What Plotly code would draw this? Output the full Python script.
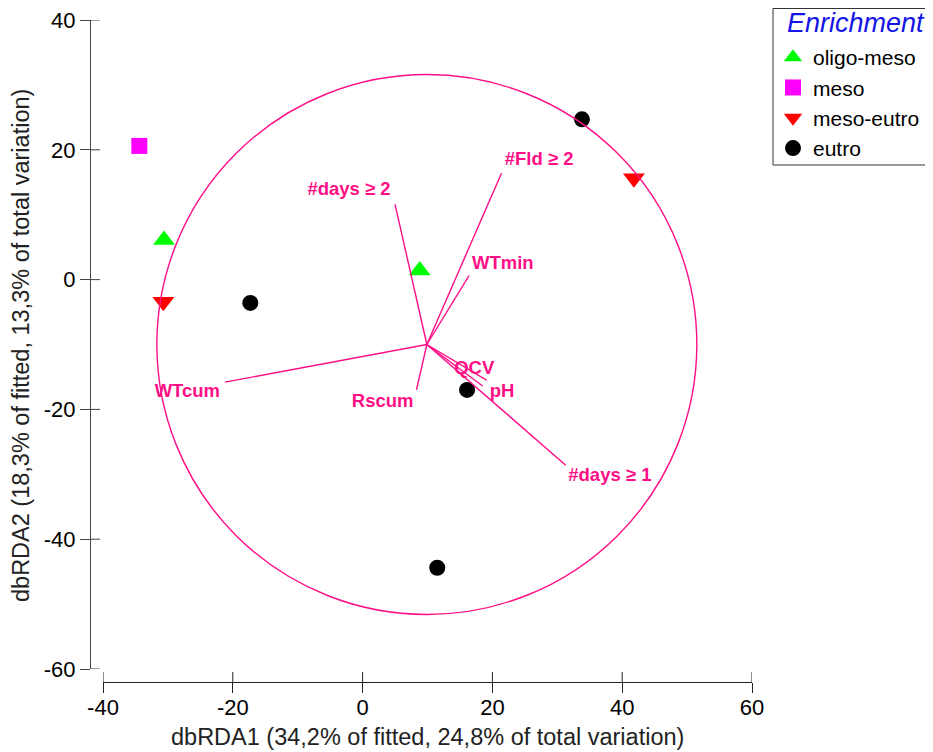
import plotly.graph_objects as go

# ---- data ----
groups = ["oligo-meso", "meso", "meso-eutro", "eutro"]
group_symbols = ["triangle-up", "square", "triangle-down", "circle"]
group_colors = ["#00FF00", "#FF00FF", "#FF0000", "#000000"]

pt_group = ["meso", "oligo-meso", "oligo-meso", "meso-eutro", "meso-eutro",
            "eutro", "eutro", "eutro", "eutro"]
pt_x = [-34.4, -30.6, 8.8, -30.7, 41.8, -17.3, 33.8, 16.1, 11.5]
pt_y = [20.6, 6.1, 1.4, -3.4, 15.6, -3.6, 24.7, -17.0, -44.4]

vec_names = ["#days ≥ 2", "#Fld ≥ 2", "WTmin", "WTcum", "Rscum", "QCV", "pH", "#days ≥ 1"]
vec_x = [5.0, 21.4, 16.4, -21.2, 8.3, 19.1, 18.5, 31.3]
vec_y = [11.6, 16.4, 0.6, -15.8, -17.0, -15.5, -16.4, -28.6]
lab_x = [-2.1, 27.2, 21.6, -27.0, 3.1, 17.2, 21.5, 38.1]
lab_y = [13.8, 18.4, 2.4, -17.3, -18.9, -13.9, -17.3, -30.3]

origin = (9.9, -10.0)
circle_r = 41.6

x_ticks = [-40, -20, 0, 20, 40, 60]
x_ticktext = ["-40", "-20", "0", "20", "40", "60"]
y_ticks = [-60, -40, -20, 0, 20, 40]
y_ticktext = ["-60", "-40", "-20", "0", "20", "40"]
x_title = "dbRDA1 (34,2% of fitted, 24,8% of total variation)"
y_title = "dbRDA2 (18,3% of fitted, 13,3% of total variation)"
legend_title = "Enrichment"

PINK = "#FF0F86"
FONT = "Liberation Sans, Arial, sans-serif"
W, H = 933, 752
OFF = 8  # page body margin offset


def px(xs):
    return (xs - OFF) / W


def py(ys):
    return 1 - (ys - OFF) / H


fig = go.Figure()

for g, sym, col in zip(groups, group_symbols, group_colors):
    xs = [x for x, gg in zip(pt_x, pt_group) if gg == g]
    ys = [y for y, gg in zip(pt_y, pt_group) if gg == g]
    size = 16 if sym in ("square", "circle") else 19
    fig.add_trace(go.Scatter(x=xs, y=ys, mode="markers", name=g,
                             marker=dict(symbol=sym, color=col, size=size,
                                         line=dict(width=0))))

# vectors
lx, ly = [], []
for ex, ey in zip(vec_x, vec_y):
    lx += [origin[0], ex, None]
    ly += [origin[1], ey, None]
fig.add_trace(go.Scatter(x=lx, y=ly, mode="lines", showlegend=False,
                         line=dict(color=PINK, width=1.4), hoverinfo="skip"))
fig.add_trace(go.Scatter(x=lab_x, y=lab_y, mode="text", text=vec_names,
                         showlegend=False, hoverinfo="skip",
                         textfont=dict(family=FONT, size=18.5, color=PINK, weight="bold")))

# circle
fig.add_shape(type="circle", xref="x", yref="y",
              x0=origin[0] - circle_r, x1=origin[0] + circle_r,
              y0=origin[1] - circle_r, y1=origin[1] + circle_r,
              line=dict(color=PINK, width=1.4))

xdom = [px(103), px(752)]
ydom = [py(669), py(20)]
xpos = py(682)
ypos = px(90)

# inner halves of the crossing ticks
for t in x_ticks:
    fig.add_shape(type="line", xref="x", yref="paper", x0=t, x1=t,
                  y0=xpos, y1=xpos + 10 / H, line=dict(color="#222", width=1))
for t in y_ticks:
    fig.add_shape(type="line", xref="paper", yref="y", x0=ypos, x1=ypos + 10 / W,
                  y0=t, y1=t, line=dict(color="#444", width=1))

# axis titles
fig.add_annotation(text=x_title, xref="paper", yref="paper",
                   x=px(427), y=py(737), xanchor="center", yanchor="middle",
                   showarrow=False, font=dict(family=FONT, size=23.5, color="#222"))
fig.add_annotation(text=y_title, xref="paper", yref="paper", textangle=-90,
                   x=px(21), y=py(346), xanchor="center", yanchor="middle",
                   showarrow=False, font=dict(family=FONT, size=23.5, color="#222"))

# legend box and title
fig.add_shape(type="rect", xref="paper", yref="paper",
              x0=px(773), x1=px(945), y0=py(165), y1=py(8.5),
              line=dict(color="#333", width=1), fillcolor="rgba(0,0,0,0)", layer="below")
fig.add_annotation(text="<i>" + legend_title + "</i>", xref="paper", yref="paper",
                   x=px(856), y=py(23), xanchor="center", yanchor="middle",
                   showarrow=False, font=dict(family=FONT, size=27, color="#1414E6"))

fig.update_layout(
    width=W, height=H,
    margin=dict(l=0, r=0, t=0, b=0),
    paper_bgcolor="white", plot_bgcolor="white",
    font=dict(family=FONT, size=22, color="black"),
    xaxis=dict(domain=xdom, range=[-40, 60], anchor="free", position=xpos,
               tickvals=x_ticks, ticktext=x_ticktext,
               ticks="outside", ticklen=10, tickcolor="#222", ticklabelstandoff=-4,
               ticklabeloverflow="allow",
               showline=True, linecolor="#222", linewidth=1,
               showgrid=False, zeroline=False, automargin=False,
               tickfont=dict(family=FONT, size=22, color="black")),
    yaxis=dict(domain=ydom, range=[-60, 40], anchor="free", position=ypos,
               tickvals=y_ticks, ticktext=y_ticktext,
               ticks="outside", ticklen=10, tickcolor="#444",
               ticklabeloverflow="allow",
               showline=True, linecolor="#444", linewidth=1,
               showgrid=False, zeroline=False, automargin=False,
               tickfont=dict(family=FONT, size=22, color="black")),
    legend=dict(x=px(773), y=py(37), xanchor="left", yanchor="top",
                borderwidth=0, bgcolor="rgba(0,0,0,0)",
                font=dict(family=FONT, size=21, color="black")),
)

fig.write_html("out.html")
